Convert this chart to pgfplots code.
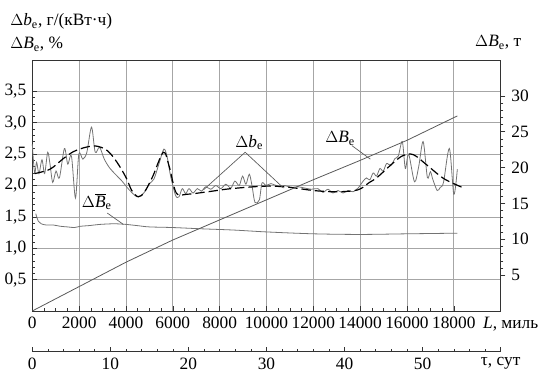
\documentclass[border=0pt]{standalone}
\usepackage{pgfplots}
\pgfplotsset{compat=1.18}
\usepackage{fontspec}
\setmainfont{Liberation Serif}
\definecolor{gridc}{gray}{0.65}
\definecolor{curvec}{gray}{0.45}
\definecolor{linec}{gray}{0.35}
\begin{document}
\fontsize{13}{15}\selectfont
\begin{tikzpicture}
\pgfplotsset{
  every tick label/.append style={font=\fontsize{13}{15}\selectfont},
  /pgf/number format/assume math mode=true,
}
% main axis (left scale)
\begin{axis}[
  scale only axis, width=351.3pt, height=188.25pt,
  xmin=0, xmax=20000, ymin=0, ymax=4,
  xtick={0,2000,...,18000}, minor x tick num=3,
  ytick={0.5,1,1.5,2,2.5,3,3.5}, minor y tick num=4,
  scaled x ticks=false,
  xticklabel style={/pgf/number format/1000 sep={}},
  yticklabel style={/pgf/number format/.cd, fixed, zerofill, precision=1, use comma},
  xmajorgrids, ymajorgrids,
  major grid style={gridc, line width=0.5pt},
  axis line style={line width=0.6pt, black!80},
  tick align=inside, major tick length=3.5pt, minor tick length=2pt,
  ytick pos=left, xtick pos=bottom,
  tick style={black!80, line width=0.4pt},
  clip=false,
]
% Delta b_e oscillating curve
\addplot[curvec, line width=0.6pt, smooth, tension=0.5] coordinates {
(0,2.66)(100,2.20)(186,2.37)(286,2.19)(415,2.41)(529,2.19)(658,2.53)(758,2.34)
(872,2.05)(1015,2.23)(1158,2.12)(1373,2.59)(1516,2.34)(1673,2.47)(1845,1.80)
(1988,2.50)(2159,2.42)(2331,2.53)(2530,2.93)(2688,2.53)(2874,2.61)(3075,2.42)
(3303,2.28)(3546,2.18)(3832,2.07)(4118,1.94)(4476,1.82)(4762,1.88)(4976,2.02)
(5191,2.10)(5405,2.34)(5620,2.58)(5763,2.45)(5906,2.15)(6120,1.84)(6263,1.82)
(6406,1.95)(6550,1.87)(6692,1.95)(6864,1.88)(7050,1.95)(7222,1.91)(7407,1.98)
(7622,1.94)(7836,2.00)(8051,1.95)(8265,2.02)(8480,1.96)(8652,2.07)(8837,2.00)
(8980,2.15)(9123,2.02)(9266,2.18)(9381,2.00)(9510,1.73)(9695,1.77)(9810,2.04)
(9981,2.00)(10196,2.03)(10482,1.99)(10768,2.00)(11054,1.97)(11340,1.98)
(11626,1.96)(11912,1.94)(12198,1.95)(12412,1.89)(12627,1.94)(12841,1.88)
(13056,1.92)(13270,1.88)(13485,1.92)(13699,1.90)(13914,1.96)(14128,2.07)
(14271,2.12)(14414,2.09)(14557,2.20)(14700,2.15)(14843,2.27)(14986,2.23)
(15129,2.35)(15315,2.32)(15487,2.43)(15630,2.47)(15800,2.70)(15930,2.27)
(16070,2.50)(16320,2.06)(16500,2.30)(16690,2.70)(16870,2.13)(17000,2.22)
(17100,2.10)(17290,1.92)(17420,1.97)(17560,2.05)(17810,2.59)(18000,1.86)(18150,2.26)
};
% trend (dashed)
\addplot[black, line width=0.9pt, dash pattern=on 7pt off 3pt, smooth, tension=0.55] coordinates {
(100,2.19)(758,2.26)(1330,2.43)(1760,2.54)(2188,2.60)(2700,2.63)(3190,2.56)
(3600,2.38)(4000,2.13)(4250,1.92)(4530,1.82)(4800,1.90)(5150,2.15)(5600,2.53)
(5850,2.30)(6150,1.88)(6600,1.86)(7500,1.90)(8500,1.95)(10000,1.99)(11000,1.97)
(12000,1.92)(13000,1.90)(13900,1.93)(14400,2.05)(14730,2.13)(15440,2.37)
(15850,2.48)(16280,2.49)(16870,2.32)(17570,2.11)(18360,1.97)
};
% Delta B_e bar (%)
\addplot[curvec, line width=0.6pt, smooth] coordinates {
(150,1.55)(260,1.43)(380,1.39)(600,1.37)(900,1.37)(1200,1.35)(1500,1.34)
(1800,1.33)(2050,1.35)(2400,1.36)(2900,1.38)(3500,1.39)(4000,1.38)(4500,1.36)
(5000,1.34)(6000,1.33)(7200,1.31)(8600,1.29)(10000,1.26)(12000,1.23)
(14000,1.22)(16000,1.23)(18150,1.24)
};
% annotations
\draw[linec, line width=0.5pt] (axis cs:7309,1.93) -- (axis cs:9091,2.53) -- (axis cs:10728,1.96);
\node[anchor=base west, inner sep=0pt] at (axis cs:8663,2.61) {$\Delta$\textit{b}\textsubscript{е}};
\draw[linec, line width=0.5pt] (axis cs:13650,2.635) -- (axis cs:14435,2.42);
\node[anchor=base east, inner sep=0pt] at (axis cs:13790,2.68) {$\Delta$\textit{B}\textsubscript{е}};
\draw[linec, line width=0.5pt] (axis cs:3206,1.56) -- (axis cs:3890,1.38);
\node[anchor=base west, inner sep=0pt] at (axis cs:2111,1.65) {$\Delta\overline{\textit{B}}$\textsubscript{е}};
\node[anchor=base west, inner sep=0pt] at (rel axis cs:0.962,-0.068) {\textit{L}, миль};
\end{axis}
% right axis (tonnes)
\begin{axis}[
  scale only axis, width=351.3pt, height=188.25pt,
  xmin=0, xmax=20000, ymin=0, ymax=35,
  axis x line=none, axis y line*=right,
  ytick={5,10,...,30}, minor y tick num=4,
  tick align=outside, major tick length=3.5pt, minor tick length=2pt,
  axis line style={line width=0.6pt, black!80},
  tick style={black!80, line width=0.4pt},
]
\addplot[linec, line width=0.6pt] coordinates {
(0,0)(2000,3.4)(4000,6.8)(6000,9.9)(8000,12.7)(10000,15.5)(12000,18.3)
(14000,21.0)(16000,23.8)(18150,27.2)
};
\end{axis}
% tau axis
\begin{axis}[
  at={(0,-30.5pt)}, anchor=south west,
  scale only axis, width=351.3pt, height=8pt,
  xmin=0, xmax=60, ymin=0, ymax=1,
  axis x line*=bottom, axis y line=none,
  xtick={0,10,...,60}, minor x tick num=4,
  xticklabels={0,10,20,30,40,50,{τ, сут}},
  tick align=inside, major tick length=3.5pt, minor tick length=2pt,
  axis line style={line width=0.6pt, black!80},
  tick style={black!80, line width=0.4pt},
]
\addplot[draw=none] coordinates {(0,0)(60,0)};
\end{axis}
% outer labels
\node[anchor=base west, inner sep=0pt] at (-16.7pt,213.75pt) {$\Delta$\textit{b}\textsubscript{е}, г/(кВт·ч)};
\node[anchor=base west, inner sep=0pt] at (-16.7pt,196.5pt) {$\Delta$\textit{B}\textsubscript{е}, \%};
\node[anchor=base west, inner sep=0pt] at (332pt,198pt) {$\Delta$\textit{B}\textsubscript{е}, т};
\pgfresetboundingbox
\path[use as bounding box] (-24.2pt,-46.5pt) rectangle (383.8pt,233.25pt);
\end{tikzpicture}
\end{document}
